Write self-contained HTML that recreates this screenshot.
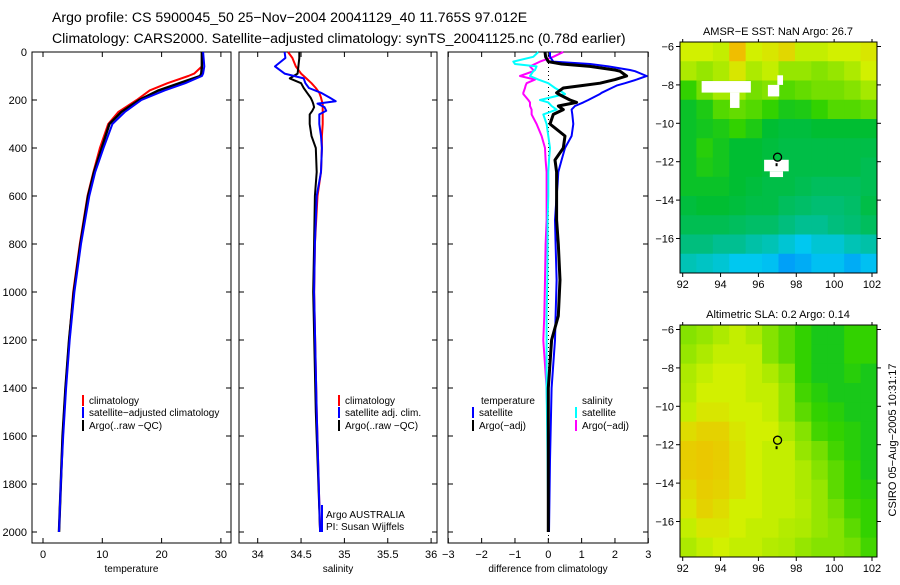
<!DOCTYPE html>
<html><head><meta charset="utf-8"><style>
body{margin:0;background:#fff;width:900px;height:580px;overflow:hidden}
svg{font-family:"Liberation Sans",sans-serif}
</style></head><body>
<svg id="s" width="900" height="580" xmlns="http://www.w3.org/2000/svg">
<text x="52" y="22" font-size="14.1">Argo profile: CS 5900045_50 25−Nov−2004 20041129_40 11.765S 97.012E</text>
<text x="52" y="43" font-size="14.1">Climatology: CARS2000. Satellite−adjusted climatology: synTS_20041125.nc (0.78d earlier)</text>
<text x="778" y="35" font-size="11" text-anchor="middle">AMSR−E SST: NaN Argo: 26.7</text>
<text x="778" y="318" font-size="11" text-anchor="middle">Altimetric SLA: 0.2 Argo: 0.14</text>
<text x="0" y="0" font-size="11" text-anchor="middle" transform="translate(896,440) rotate(-90)">CSIRO 05−Aug−2005 10:31:17</text>
</svg>
<script>
// ---- data ----
const depthTicks=[0,200,400,600,800,1000,1200,1400,1600,1800,2000];
const tempTicks=[0,10,20,30];
const salTicks=[34,34.5,35,35.5,36];
const salTickLabels=["34","34.5","35","35.5","36"];
const diffTicks=[-3,-2,-1,0,1,2,3];
const tDepth=[0,60,90,100,130,160,200,250,300,400,500,600,800,1000,1200,1400,1600,1800,2000];
const tClim=[26.8,26.8,25.5,24.5,21,18,15.8,12.7,11,9.6,8.5,7.5,6.2,5.1,4.4,3.8,3.3,3.0,2.7];
const tSat=[27,27.2,27,26.8,24,20.5,16.6,13.8,11.7,10.2,8.8,7.8,6.4,5.3,4.5,3.9,3.4,3.0,2.7];
const tArgo=[26.8,26.8,26.7,26.5,23,19.5,16.2,13.2,11.2,9.9,8.6,7.6,6.3,5.2,4.4,3.8,3.3,3.0,2.7];
const sDepth=[0,25,60,90,110,130,150,170,190,205,215,230,245,260,300,350,400,500,600,800,1000,1500,2000];
const sClim=[34.35,34.4,34.44,34.5,34.56,34.62,34.67,34.71,34.73,34.74,34.75,34.75,34.75,34.75,34.75,34.74,34.74,34.73,34.69,34.66,34.65,34.68,34.72];
const sSat=[34.31,34.32,34.2,34.31,34.53,34.55,34.59,34.73,34.83,34.9,34.69,34.77,34.79,34.71,34.71,34.73,34.74,34.73,34.68,34.66,34.65,34.68,34.72];
const sArgo=[34.48,34.48,34.47,34.46,34.37,34.5,34.53,34.57,34.61,34.63,34.64,34.65,34.63,34.6,34.6,34.62,34.67,34.68,34.66,34.65,34.64,34.67,34.72];
const dDepth=[0,20,40,50,60,75,80,100,115,130,140,150,170,175,200,210,225,240,260,300,350,400,450,500,550,600,700,800,950,1100,1200,1400,1700,2000];
const dTSat=[0.05,0.05,0.15,1.25,1.8,2.45,2.6,2.95,2.65,2.3,2.05,1.9,1.6,1.55,1.2,1.05,0.8,0.7,0.72,0.75,0.7,0.5,0.4,0.3,0.28,0.25,0.2,0.22,0.25,0.22,0.2,0.1,0.05,0.02];
const dTArgo=[-0.1,-0.08,0.0,0.4,1.25,2.0,2.15,2.35,2.0,1.55,1.0,0.45,0.25,0.3,0.65,0.85,0.3,0.45,0.15,0.05,0.5,0.45,0.2,0.25,0.25,0.25,0.25,0.3,0.35,0.3,0.1,0.0,0.0,0.0];
const dSSat=[-0.3,-0.45,-1.05,-1.0,-0.35,-0.4,-0.45,-0.55,-0.3,0.0,0.1,0.2,0.45,0.5,-0.25,0.0,0.1,0.25,-0.15,-0.05,0.0,0.05,0.02,0.0,0.0,0.0,-0.02,-0.02,-0.03,-0.05,-0.05,-0.05,-0.02,0.0];
const dSArgo=[0.45,0.15,-0.25,-0.4,-0.55,-0.45,-0.45,-0.85,-0.4,-0.65,-0.68,-0.7,-0.75,-0.75,-0.6,-0.55,-0.55,-0.5,-0.5,-0.35,-0.2,-0.1,-0.08,-0.05,-0.05,-0.05,-0.05,-0.08,-0.1,-0.12,-0.15,-0.05,0.0,0.0];
const lonTicks=[92,94,96,98,100,102];
const latTicks=[-6,-8,-10,-12,-14,-16];
const sstGrid=[
[0.8,0.8,0.78,0.9,0.8,0.82,0.85,0.78,0.78,0.8,0.8,0.82],
[0.75,0.72,0.75,0.82,0.75,0.78,0.72,0.72,0.7,0.72,0.75,0.8],
[0.6,0.68,0.74,0.74,0.68,0.7,0.64,0.66,0.68,0.68,0.7,0.74],
[0.52,0.56,0.64,0.66,0.64,0.6,0.55,0.56,0.6,0.64,0.64,0.66],
[0.52,0.54,0.56,0.6,0.56,0.5,0.48,0.48,0.5,0.5,0.5,0.5],
[0.52,0.58,0.54,0.5,0.5,0.48,0.46,0.46,0.46,0.46,0.46,0.46],
[0.52,0.56,0.54,0.5,0.5,0.48,0.46,0.46,0.46,0.46,0.46,0.44],
[0.52,0.52,0.52,0.5,0.48,0.46,0.46,0.44,0.42,0.42,0.42,0.44],
[0.48,0.5,0.5,0.48,0.46,0.46,0.42,0.4,0.38,0.38,0.4,0.46],
[0.44,0.44,0.44,0.42,0.4,0.4,0.36,0.33,0.33,0.36,0.38,0.42],
[0.36,0.36,0.33,0.33,0.3,0.28,0.24,0.2,0.24,0.24,0.28,0.3],
[0.28,0.26,0.24,0.2,0.2,0.18,0.1,0.13,0.18,0.18,0.13,0.18]];
const slaGrid=[
[0.7,0.72,0.75,0.78,0.75,0.7,0.65,0.6,0.55,0.55,0.6,0.6],
[0.72,0.75,0.78,0.78,0.78,0.7,0.65,0.6,0.55,0.55,0.6,0.6],
[0.75,0.78,0.8,0.8,0.78,0.75,0.7,0.6,0.55,0.55,0.58,0.55],
[0.76,0.8,0.8,0.8,0.78,0.78,0.72,0.62,0.58,0.55,0.55,0.55],
[0.78,0.82,0.82,0.8,0.8,0.78,0.72,0.65,0.6,0.58,0.55,0.55],
[0.84,0.86,0.86,0.82,0.8,0.8,0.75,0.7,0.62,0.6,0.58,0.55],
[0.87,0.88,0.87,0.83,0.8,0.78,0.78,0.72,0.68,0.62,0.58,0.55],
[0.87,0.88,0.87,0.83,0.8,0.78,0.78,0.75,0.7,0.65,0.6,0.55],
[0.84,0.87,0.86,0.83,0.8,0.78,0.78,0.75,0.72,0.65,0.6,0.58],
[0.82,0.86,0.84,0.8,0.8,0.78,0.78,0.76,0.72,0.68,0.62,0.6],
[0.78,0.82,0.82,0.8,0.78,0.78,0.76,0.75,0.72,0.7,0.65,0.6],
[0.75,0.78,0.8,0.78,0.78,0.76,0.75,0.72,0.7,0.7,0.68,0.62]];
const nanBoxes=[[93.0,95.6,-7.8,-8.4],[94.5,95.0,-8.4,-9.2],[96.5,97.1,-8.0,-8.6],[97.0,97.3,-7.5,-8.0],[96.3,97.6,-11.9,-12.5],[96.6,97.3,-12.5,-12.8]];
const argoLon=97.012, argoLat=-11.765;

// ---- helpers ----
const S=document.getElementById('s');const NS='http://www.w3.org/2000/svg';
function mk(t,a,txt){const e=document.createElementNS(NS,t);for(const k in a)e.setAttribute(k,a[k]);if(txt!==undefined)e.textContent=txt;S.appendChild(e);return e;}
const Y=d=>52+d*0.24;
const panels=[
 {x0:32,x1:231,fx:v=>43+v*5.93,ticks:tempTicks,labels:tempTicks.map(String),title:'temperature',name:'temperature'},
 {x0:239,x1:437,fx:v=>257.7+(v-34)*86.7,ticks:salTicks,labels:salTickLabels,title:'salinity',name:'salinity'},
 {x0:448,x1:648,fx:v=>548.3+v*33.33,ticks:diffTicks,labels:diffTicks.map(String),title:'difference from climatology',name:'difference'}];
panels.forEach((p,i)=>{
 const r=mk('rect',{x:p.x0,y:52,width:p.x1-p.x0,height:491,fill:'none',stroke:'#000','stroke-width':1});
 
 
 p.ticks.forEach((t,j)=>{const x=p.fx(t);
  mk('line',{x1:x,x2:x,y1:52,y2:57,stroke:'#000'});mk('line',{x1:x,x2:x,y1:543,y2:538,stroke:'#000'});
  const l=mk('text',{x:x,y:558,'font-size':11,'text-anchor':'middle'},p.labels[j].replace('-','−'));
  
  });
 depthTicks.forEach(d=>{const y=Y(d);mk('line',{x1:p.x0,x2:p.x0+5,y1:y,y2:y,stroke:'#000'});mk('line',{x1:p.x1,x2:p.x1-5,y1:y,y2:y,stroke:'#000'});
  if(i==0){const l=mk('text',{x:27,y:y+4,'font-size':11,'text-anchor':'end'},String(d));
  
  }});
 const tt=mk('text',{x:(p.x0+p.x1)/2,y:572,'font-size':10,'text-anchor':'middle'},p.title);
 
 
});
// zero line
for(let y=55;y<540;y+=4){mk('rect',{x:548,y:y,width:1,height:1,fill:'#000'});}
function line(p,xs,ds,col,w,name){const pts=xs.map((v,i)=>p.fx(v).toFixed(1)+','+Y(ds[i]).toFixed(1)).join(' ');
 const e=mk('polyline',{points:pts,fill:'none',stroke:col,'stroke-width':w,'stroke-linejoin':'round'});
 
 }
line(panels[0],tClim,tDepth,'#f00',2,'temp-climatology-line');
line(panels[0],tArgo,tDepth,'#000',2.5,'temp-argo-line');
line(panels[0],tSat,tDepth,'#00f',2,'temp-satellite-line');
line(panels[1],sClim,sDepth,'#f00',2,'sal-climatology-line');
line(panels[1],sArgo,sDepth,'#000',2,'sal-argo-line');
line(panels[1],sSat,sDepth,'#00f',2,'sal-satellite-line');
line(panels[2],dSArgo,dDepth,'#f0f',2,'diff-sal-argo-line');
line(panels[2],dSSat,dDepth,'#0ff',2,'diff-sal-satellite-line');
line(panels[2],dTSat,dDepth,'#00f',2,'diff-temp-satellite-line');
line(panels[2],dTArgo,dDepth,'#000',3,'diff-temp-argo-line');
// legends
function leg(x,y,col,txt,name){mk('rect',{x:x,y:y-9,width:2,height:11,fill:col});
 const t=mk('text',{x:x+7,y:y,'font-size':10},txt);
 
 }
leg(82,404,'#f00','climatology','legend-climatology');
leg(82,416,'#00f','satellite−adjusted climatology','legend-satellite-adjusted');
leg(82,429,'#000','Argo(..raw −QC)','legend-argo');
leg(338,404,'#f00','climatology','legend2-climatology');
leg(338,416,'#00f','satellite adj. clim.','legend2-satellite');
leg(338,429,'#000','Argo(..raw −QC)','legend2-argo');
mk('text',{x:481,y:404,'font-size':10},'temperature');
leg(472,416,'#00f','satellite','legend3-temp-satellite');
leg(472,429,'#000','Argo(−adj)','legend3-temp-argo');
mk('text',{x:582,y:404,'font-size':10},'salinity');
leg(575,416,'#0ff','satellite','legend3-sal-satellite');
leg(575,429,'#f0f','Argo(−adj)','legend3-sal-argo');
mk('line',{x1:322,x2:322,y1:505,y2:532,stroke:'#00f','stroke-width':2});
mk('text',{x:326,y:518,'font-size':10},'Argo AUSTRALIA');
mk('text',{x:326,y:530,'font-size':10},'PI: Susan Wijffels');
// maps
const stops=[[0,[0,120,255]],[0.2,[0,200,240]],[0.35,[0,190,130]],[0.5,[0,190,50]],[0.6,[50,210,0]],[0.72,[150,230,0]],[0.8,[210,240,0]],[0.9,[240,190,0]],[1,[230,100,0]]];
function cmap(v){for(let i=1;i<stops.length;i++){if(v<=stops[i][0]){const a=stops[i-1],b=stops[i],f=(v-a[0])/(b[0]-a[0]);return 'rgb('+a[1].map((c,k)=>Math.round(c+(b[1][k]-c)*f)).join(',')+')';}}return 'rgb(230,100,0)';}
function map(y0,y1,grid,name,nan){
 const x0=680,x1=877,lx=lon=>682.7+(lon-92)*18.93,ly=lat=>(y0+4.5)+(-6-lat)*19.2;
 const rows=grid.length,cols=grid[0].length,cw=(x1-x0)/cols,ch=(y1-y0)/rows;
 grid.forEach((r,i)=>r.forEach((v,j)=>{const c=mk('rect',{x:x0+j*cw,y:y0+i*ch,width:cw+0.5,height:ch+0.5,fill:cmap(v)});
  
  }));
 if(nan)nanBoxes.forEach(b=>mk('rect',{x:lx(b[0]),y:ly(b[2]),width:lx(b[1])-lx(b[0]),height:ly(b[3])-ly(b[2]),fill:'#fff'}));
 const f=mk('rect',{x:x0,y:y0,width:x1-x0,height:y1-y0,fill:'none',stroke:'#000'});
 
 
 lonTicks.forEach(l=>{const x=lx(l);mk('line',{x1:x,x2:x,y1:y1,y2:y1+4,stroke:'#000'});mk('line',{x1:x,x2:x,y1:y0,y2:y0-3,stroke:'#000'});
  mk('text',{x:x,y:y1+15,'font-size':11,'text-anchor':'middle'},String(l));});
 latTicks.forEach(l=>{const y=ly(l);mk('line',{x1:x0,x2:x0-4,y1:y,y2:y,stroke:'#000'});mk('line',{x1:x1,x2:x1+4,y1:y,y2:y,stroke:'#000'});
  mk('text',{x:x0-6,y:y+4,'font-size':11,'text-anchor':'end'},String(l).replace('-','−'));});
 const mx=lx(argoLon),my=ly(argoLat);
 const m=mk('circle',{cx:mx,cy:my,r:4,fill:nan?'#00c040':'none',stroke:'#000','stroke-width':1.3});
 
 
 mk('rect',{x:mx-2,y:my+6,width:2,height:3,fill:'#000'});
}
map(42,273,sstGrid,'sst-map',true);
map(325,557,slaGrid,'sla-map',false);
</script>
</body></html>
